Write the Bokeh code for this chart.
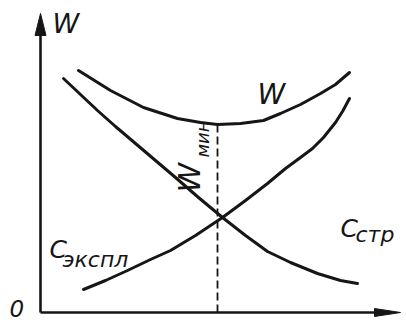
from bokeh.plotting import figure
from bokeh.models import Range1d
from bokeh.core.properties import value
from bokeh.embed import file_html
from bokeh.resources import INLINE

# Total cost W versus the design parameter (schematic units)
w_x = [38, 70, 103, 137, 160, 177, 200, 223, 240, 260, 280, 295, 309]
w_y = [242, 222, 205, 194, 190, 188, 189, 192, 199, 208, 219, 228, 240]

# Operating cost С_экспл (rising)
exp_x = [43, 65, 87, 110, 130, 155, 182, 205, 227, 245, 260, 272, 283, 295, 302, 309]
exp_y = [23, 32, 42, 53, 62, 77, 95, 112, 129, 144, 155, 164, 175, 190, 201, 214]

# Construction cost С_стр (falling)
str_x = [23, 40, 57, 75, 95, 115, 135, 158, 182, 205, 227, 250, 277, 300, 317]
str_y = [234, 218, 202, 186, 169, 152, 135, 115, 95, 77, 61, 50, 39, 32, 29]

# Axis extents
x_axis_end = 360
y_axis_end = 299

INK = "#161616"
FONT = value("DejaVu Sans")

p = figure(width=406, height=323, output_backend="svg", toolbar_location=None,
           x_range=Range1d(-40, 366), y_range=Range1d(-11, 312),
           min_border=0, outline_line_color=None,
           background_fill_color="white", border_fill_color="white")
p.axis.visible = False
p.grid.visible = False

# Coordinate axes with arrowheads
p.line([0, 0], [0, y_axis_end - 14], line_color=INK, line_width=2.6)
p.line([0, x_axis_end - 18], [0, 0], line_color=INK, line_width=2.6)
p.patches(
    xs=[[0, -5.5, 5.5], [x_axis_end, x_axis_end - 26, x_axis_end - 26]],
    ys=[[y_axis_end, y_axis_end - 22, y_axis_end - 22], [0, 4, -4]],
    fill_color=INK, line_color=INK, line_width=1,
)

# Cost curves
for xs, ys in ((w_x, w_y), (exp_x, exp_y), (str_x, str_y)):
    p.line(xs, ys, line_color=INK, line_width=3, line_join="round", line_cap="round")

# Minimum of W marked with a dashed drop line
i_min = w_y.index(min(w_y))
p.line([w_x[i_min], w_x[i_min]], [0, w_y[i_min]], line_color=INK, line_width=1.8,
       line_dash="8 4")

def label(x, y, s, size, angle=0.0):
    p.text(x=[x], y=[y], text=[s], angle=angle, text_font=FONT,
           text_font_size=f"{size}px", text_font_style="italic",
           text_color=INK, text_baseline="alphabetic", text_align="left")

label(12, 289, "W", 27)
label(217, 218, "W", 28)
label(149, 120, "W", 30, angle=1.5708)
label(162, 155, "мин", 18, angle=1.5708)
label(9, 63, "С", 25)
label(22, 53, "экспл", 22)
label(300, 84, "С", 25)
label(315, 78, "стр", 22)
label(-31, 4, "0", 23)

open("out.html", "w").write(file_html(p, INLINE))
